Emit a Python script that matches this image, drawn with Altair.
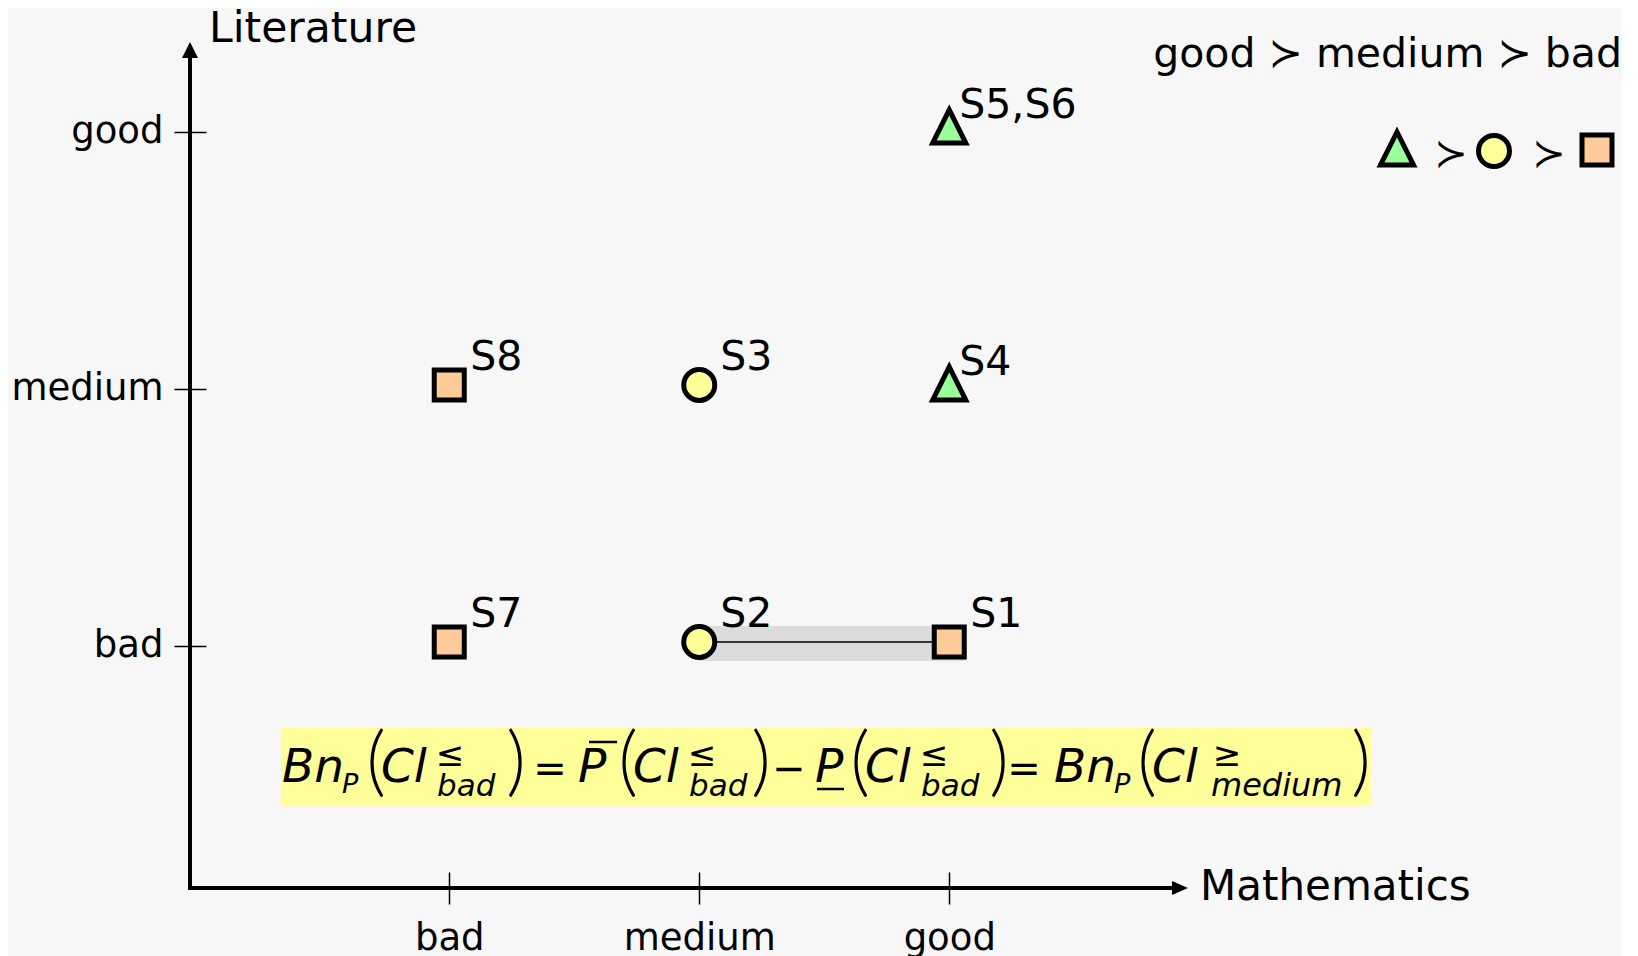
import altair as alt
import pandas as pd

# ---------------- data ----------------
levels = ["bad", "medium", "good"]
students = ["S1", "S2", "S3", "S4", "S5,S6", "S7", "S8"]
mathematics = ["good", "medium", "medium", "good", "good", "bad", "bad"]
literature = ["bad", "bad", "medium", "medium", "good", "bad", "medium"]
decision = ["bad", "medium", "medium", "good", "good", "bad", "bad"]
inconsistent_pair = ["S2", "S1"]

rank = {lv: i + 1 for i, lv in enumerate(levels)}
df = pd.DataFrame({
    "student": students,
    "math": [rank[m] for m in mathematics],
    "lit": [rank[l] for l in literature],
    "cls": decision,
})
a = df[df.student == inconsistent_pair[0]].iloc[0]
b = df[df.student == inconsistent_pair[1]].iloc[0]
pair = pd.DataFrame({"m1": [a.math], "m2": [b.math], "lit": [a.lit]})
one = pd.DataFrame({"k": [0]})

# ---------------- layout / style ----------------
W, H = 998, 846
OX, OY = 190, 42  # page position of plot origin
FONT = "DejaVu Sans"
TRI = "M0,-1.333L1,0.667L-1,0.667Z"
# shape, fill, size, label dx, marker yOffset, label dy
style = {
    "good": (TRI, "#99ff99", 1089, 10, 0, -14),
    "medium": ("circle", "#ffff99", 961, 21, -4, -19),
    "bad": ("square", "#ffcc99", 900, 21, -4, -19),
}
label_expr = "[" + ",".join("'%s'" % l for l in levels) + "][datum.value-1]"

xscale = alt.Scale(domain=[-0.037, 3.955], nice=False, zero=False)
yscale = alt.Scale(domain=[0.058, 3.350], nice=False, zero=False)
xaxis = alt.Axis(values=[1, 2, 3], labelExpr=label_expr, domain=False, grid=False,
                 offset=-16, tickSize=32, tickWidth=1.5, tickColor="black",
                 labelFont=FONT, labelFontSize=37, labelColor="black",
                 labelPadding=16, title=None)
yaxis = alt.Axis(values=[1, 2, 3], labelExpr=label_expr, domain=False, grid=False,
                 offset=-16, tickSize=32, tickWidth=1.5, tickColor="black",
                 labelFont=FONT, labelFontSize=37, labelColor="black",
                 labelPadding=11, title=None)


def X(f):
    return alt.X(f, type="quantitative", scale=xscale, axis=xaxis)


def Y(f):
    return alt.Y(f, type="quantitative", scale=yscale, axis=yaxis)


layers = []

# inconsistency band and link
layers.append(alt.Chart(pair).mark_rect(color="#dcdcdc", x2Offset=16, yOffset=-20, y2Offset=15)
              .encode(x=X("m1"), x2="m2:Q", y=Y("lit"), y2="lit:Q"))
layers.append(alt.Chart(pair).mark_rule(color="black", strokeWidth=1.5, yOffset=-4)
              .encode(x=X("m1"), x2="m2:Q", y=Y("lit")))

# markers and labels
for cls, (shape, fill, size, dx, yoff, dy) in style.items():
    base = alt.Chart(df).transform_filter(alt.datum.cls == cls)
    layers.append(base.mark_point(shape=shape, fill=fill, filled=True, stroke="black",
                                  strokeWidth=5, size=size, opacity=1, fillOpacity=1,
                                  yOffset=yoff)
                  .encode(x=X("math"), y=Y("lit")))
    layers.append(base.mark_text(align="left", baseline="alphabetic", dx=dx, dy=dy,
                                 font=FONT, fontSize=41, color="black")
                  .encode(x=X("math"), y=Y("lit"), text="student:N"))

# axes lines and arrows
layers.append(alt.Chart(one).mark_rule(color="black", strokeWidth=4)
              .encode(x=alt.value(0), y=alt.value(10), y2=alt.value(H + 2)))
layers.append(alt.Chart(one).mark_rule(color="black", strokeWidth=4)
              .encode(x=alt.value(-2), x2=alt.value(W - 10), y=alt.value(H)))
layers.append(alt.Chart(one).mark_point(shape="M0,0L-8,16L8,16Z", size=4, filled=True,
                                        fill="black", opacity=1, strokeWidth=0)
              .encode(x=alt.value(0), y=alt.value(0)))
layers.append(alt.Chart(one).mark_point(shape="M0,0L-16,-7L-16,7Z", size=4, filled=True,
                                        fill="black", opacity=1, strokeWidth=0)
              .encode(x=alt.value(W), y=alt.value(H)))


def txt(text, x, y, size, italic=False, align="left", weight="normal", font=FONT):
    return (alt.Chart(one)
            .mark_text(text=text, align=align, baseline="alphabetic", font=font,
                       fontSize=size, fontStyle="italic" if italic else "normal",
                       fontWeight=weight, color="black")
            .encode(x=alt.value(x - OX), y=alt.value(y - OY)))


def hline(x1, x2, y, w=2.5):
    return (alt.Chart(one).mark_rule(color="black", strokeWidth=w)
            .encode(x=alt.value(x1 - OX), x2=alt.value(x2 - OX), y=alt.value(y - OY)))


# axis titles
layers.append(txt("Literature", 209, 41.7, 42.5))
layers.append(txt("Mathematics", 1200, 900, 42))

# preference legend
layers.append(txt("good \u227b medium \u227b bad", 1622, 66.7, 41, align="right"))
for cls, (px, py) in zip(["good", "medium", "bad"], [(1397, 154), (1494, 151), (1597, 150)]):
    shape, fill, size = style[cls][:3]
    layers.append(alt.Chart(one).mark_point(shape=shape, fill=fill, filled=True, stroke="black",
                                            strokeWidth=5, size=size, opacity=1, fillOpacity=1)
                  .encode(x=alt.value(px - OX), y=alt.value(py - OY)))
for px in [1451, 1549]:
    layers.append(txt("\u227b", px, 167, 40, align="center"))

# formula
layers.append(alt.Chart(one).mark_rect(color="#ffff99")
              .encode(x=alt.value(281 - OX), x2=alt.value(1371 - OX),
                      y=alt.value(728 - OY), y2=alt.value(805 - OY)))

MAIN = 47


def paren(ch, cx):
    return txt(ch, cx, 787, 76, align="center", weight=300, font="Lato")


def group(L, sup, sub, sub_dx, sup_dx, close_dx, sub_size=31):
    return [
        paren("(", L + 4),
        txt("Cl", L + 9, 782, MAIN, italic=True),
        txt(sup, L + sup_dx, 766, 34, align="center"),
        txt(sub, L + sub_dx, 796, sub_size, italic=True),
        paren(")", L + close_dx),
    ]


layers += [txt("Bn", 282, 782, MAIN, italic=True), txt("P", 342, 793, 27, italic=True)]
layers += group(372, "\u2264", "bad", 65, 78, 144)
layers += [txt("=", 550, 782, 40, align="center")]
layers += [txt("P", 578, 782, MAIN, italic=True), hline(589, 617, 742)]
layers += group(624, "\u2264", "bad", 65, 78, 137)
layers += [txt("\u2212", 789, 782, 40, align="center")]
layers += [txt("P", 815, 782, MAIN, italic=True), hline(817, 844, 789)]
layers += group(856, "\u2264", "bad", 65, 78, 143)
layers += [txt("=", 1024, 782, 40, align="center")]
layers += [txt("Bn", 1054, 782, MAIN, italic=True), txt("P", 1114, 793, 27, italic=True)]
layers += group(1143, "\u2265", "medium", 68, 84, 218, sub_size=32)

chart = (alt.layer(*layers)
         .properties(width=W, height=H,
                     padding={"left": OX - 8, "top": OY - 8, "right": 1622 - OX - W, "bottom": 68},
                     autosize=alt.AutoSizeParams(type="none"),
                     background="#f7f7f7")
         .configure_view(stroke=None))

chart.save("out.html", embed_options={"renderer": "svg", "actions": False})
